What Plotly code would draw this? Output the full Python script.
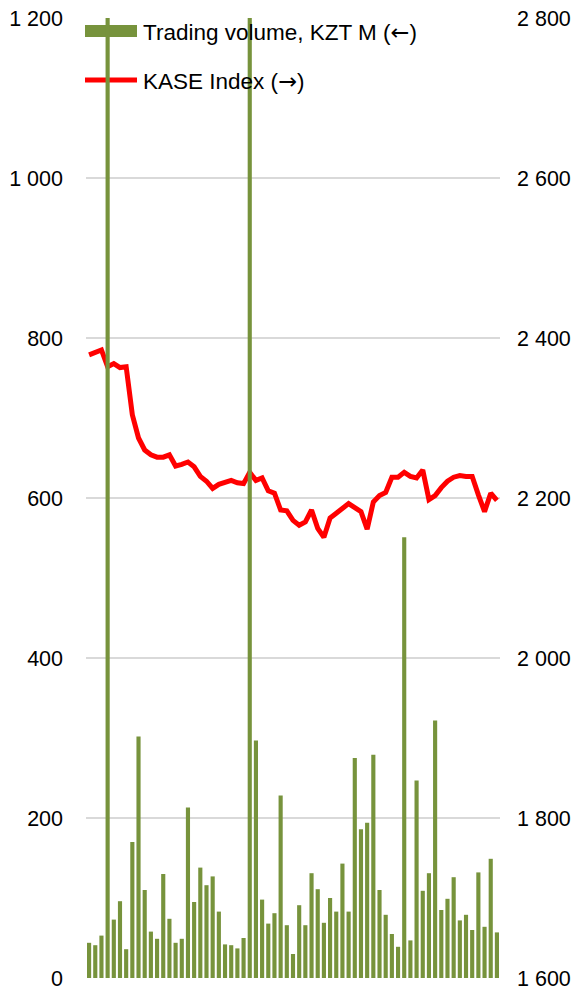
import plotly.graph_objects as go

# ---- data ----
days = list(range(1, 68))
volume = [44, 41, 53, 1500, 73, 96, 36, 170, 302, 110, 58, 49, 130, 74, 44, 49,
          213, 95, 138, 116, 127, 83, 42, 41, 37, 50, 1400, 297, 98, 68, 81, 228,
          66, 30, 91, 66, 131, 111, 69, 100, 83, 143, 83, 275, 186, 194, 279, 110,
          79, 55, 39, 551, 47, 247, 109, 131, 322, 85, 99, 126, 72, 79, 60, 132,
          64, 149, 57]
kase = [2379, 2382, 2385, 2364, 2368, 2363, 2364, 2304, 2275, 2260, 2254, 2251,
        2251, 2254, 2240, 2242, 2245, 2239, 2227, 2221, 2212, 2217, 2220, 2222,
        2219, 2218, 2232, 2222, 2225, 2209, 2206, 2185, 2184, 2172, 2166, 2170,
        2185, 2162, 2151, 2175, 2181, 2187, 2193, 2188, 2183, 2161, 2195, 2203,
        2207, 2226, 2226, 2232, 2227, 2225, 2235, 2198, 2203, 2213, 2221, 2226,
        2228, 2227, 2227, 2204, 2183, 2206, 2197]
left_ticks = [0, 200, 400, 600, 800, 1000, 1200]
left_text = ["0", "200", "400", "600", "800", "1 000", "1 200"]
right_ticks = [1600, 1800, 2000, 2200, 2400, 2600, 2800]
right_text = ["1 600", "1 800", "2 000", "2 200", "2 400", "2 600", "2 800"]
names = ["Trading volume, KZT M (\u2190)", "KASE Index (\u2192)"]

GREEN = "#77933C"
RED = "#FF0000"
FONT = "Liberation Sans, Arial, sans-serif"
FS = 21.5
LFS = 22.5

fig = go.Figure()
fig.add_trace(go.Scatter(x=days, y=kase, mode="lines", name=names[1],
                         line=dict(color=RED, width=5), yaxis="y",
                         showlegend=False))
fig.add_trace(go.Bar(x=days, y=volume, name=names[0], marker_color=GREEN,
                     marker_line_width=0, yaxis="y2", showlegend=False))

W, H = 580, 992
L, R, T, B = 86, 80, 18, 14
pw, ph = W - L - R, H - T - B

def px(x):
    return (x - L) / pw

def py(y):
    return (H - B - y) / ph

def legend_label(s):
    arrow_style = '<span style="font-family:DejaVu Sans">'
    for a in ("\u2190", "\u2192"):
        s = s.replace(a, arrow_style + a + "</span>")
    return s

shapes = [
    dict(type="rect", xref="paper", yref="paper", x0=px(85), x1=px(137),
         y0=py(37), y1=py(25), fillcolor=GREEN, line_width=0, layer="below"),
    dict(type="line", xref="paper", yref="paper", x0=px(85), x1=px(137),
         y0=py(80), y1=py(80), line=dict(color=RED, width=5), layer="below"),
]
annotations = [
    dict(xref="paper", yref="paper", x=px(141), y=py(32),
         text=legend_label(names[0]), showarrow=False, xanchor="left",
         yanchor="middle",
         font=dict(size=LFS, color="#000000", family=FONT)),
    dict(xref="paper", yref="paper", x=px(141), y=py(81),
         text=legend_label(names[1]), showarrow=False, xanchor="left",
         yanchor="middle",
         font=dict(size=LFS, color="#000000", family=FONT)),
]

fig.update_layout(
    template="none",
    width=W, height=H,
    margin=dict(l=L, r=R, t=T, b=B, pad=0, autoexpand=False),
    paper_bgcolor="white", plot_bgcolor="white",
    font=dict(family=FONT, size=FS, color="#000000"),
    bargap=0.33,
    xaxis=dict(type="linear", range=[0.5, 67.5], showticklabels=False,
               showgrid=False, zeroline=False, showline=False, ticks="",
               automargin=False),
    yaxis=dict(side="right", range=[1600, 2800], tickvals=right_ticks,
               ticktext=right_text, showgrid=False, zeroline=False,
               showline=False, ticks="", ticklabelstandoff=16,
               automargin=False),
    yaxis2=dict(side="left", overlaying="y", range=[0, 1200],
                tickvals=left_ticks, ticktext=left_text, showgrid=True,
                gridcolor="#D9D9D9", gridwidth=1.5, zeroline=False,
                showline=False, ticks="", ticklabelstandoff=22,
                automargin=False),
    shapes=shapes, annotations=annotations,
)

fig.write_html(
    "out.html",
    config={"displayModeBar": False},
    post_script="document.body.style.margin='0';"
                "document.body.style.overflow='hidden';",
)
